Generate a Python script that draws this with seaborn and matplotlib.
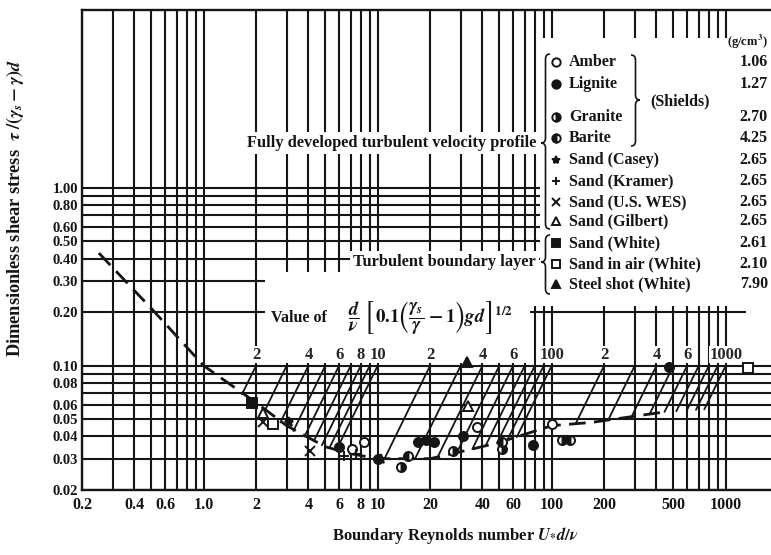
import matplotlib
matplotlib.use('Agg')
import matplotlib.pyplot as plt
import matplotlib.ticker as mticker
import matplotlib.transforms as mtransforms
import matplotlib.patches as mpatches
from matplotlib.path import Path
import pandas as pd
import seaborn as sns

# Shields curve (dashed)
curve_re = [0.25, 0.5, 1.0, 2.0, 3.0, 5.0, 7.0, 10, 20, 35, 50, 100, 170, 300, 450]
curve_tau = [0.43, 0.21, 0.10, 0.062, 0.046, 0.035, 0.032, 0.030, 0.030, 0.034, 0.037,
             0.046, 0.048, 0.052, 0.055]

# slanted lines: value of d/v [0.1 (gs/g - 1) g d]^1/2, start at tau = 0.1, end on the curve
guide_p = [2, 3, 4, 5, 6, 7, 8, 9, 10, 20, 30, 40, 50, 60, 70, 80, 90, 100,
           200, 300, 400, 500, 600, 700, 800, 900, 1000]
guide_end_re = [1.66, 2.23, 2.76, 3.28, 3.8, 4.3, 4.78, 5.29, 5.8, 10.95, 16.4, 22.1, 28.5,
                35, 41.6, 48.5, 55.6, 63, 137, 211, 288, 365, 445, 520, 597, 675, 753]
guide_end_tau = [0.069, 0.055, 0.048, 0.043, 0.040, 0.0377, 0.0357, 0.0346, 0.0336, 0.030,
                 0.030, 0.0306, 0.0324, 0.034, 0.0353, 0.0367, 0.0382, 0.0397, 0.047, 0.0494,
                 0.0517, 0.0534, 0.055, 0.0555, 0.056, 0.0565, 0.0568]
guide_top_tau = 0.1
guide_label_p = [2, 4, 6, 8, 10, 20, 40, 60, 100, 200, 400, 600, 1000]
guide_label_txt = ['2', '4', '6', '8', '10', '2', '4', '6', '100', '2', '4', '6', '1000']

# measured points
amber_re, amber_tau = [7.1, 8.3, 37, 100], [0.034, 0.037, 0.045, 0.047]
lignite_re = [6.0, 10, 17, 19, 21, 31, 78, 470]
lignite_tau = [0.035, 0.030, 0.037, 0.038, 0.037, 0.040, 0.036, 0.098]
granite_re, granite_tau = [13.6, 27, 52, 115], [0.027, 0.033, 0.034, 0.038]
barite_re, barite_tau = [15, 52, 128], [0.031, 0.037, 0.038]
casey_re, casey_tau = [3.1, 10.5], [0.048, 0.030]
kramer_re, kramer_tau = [6.4, 7.5], [0.031, 0.032]
wes_re, wes_tau = [2.2, 4.1], [0.048, 0.033]
gilbert_re, gilbert_tau = [2.2, 33], [0.054, 0.059]
white_re, white_tau = [1.9], [0.062]
air_re, air_tau = [2.5, 1350], [0.047, 0.097]
steel_re, steel_tau = [32.5], [0.105]

legend_names = ['Amber', 'Lignite', 'Granite', 'Barite', 'Sand (Casey)', 'Sand (Kramer)',
                'Sand (U.S. WES)', 'Sand (Gilbert)', 'Sand (White)', 'Sand in air (White)',
                'Steel shot (White)']
legend_density = ['1.06', '1.27', '2.70', '4.25', '2.65', '2.65', '2.65', '2.65', '2.61',
                  '2.10', '7.90']

x_major = [0.2, 0.4, 0.6, 1, 2, 4, 6, 8, 10, 20, 40, 60, 100, 200, 500, 1000]
x_major_lbl = ['0.2', '0.4', '0.6', '1.0', '2', '4', '6', '8', '10', '20', '40', '60',
               '100', '200', '500', '1000']
x_minor = [0.3, 0.5, 0.7, 0.8, 0.9, 3, 5, 7, 9, 30, 50, 70, 80, 90, 300, 400, 600, 700,
           800, 900]
y_major = [0.02, 0.03, 0.04, 0.05, 0.06, 0.08, 0.1, 0.2, 0.3, 0.4, 0.5, 0.6, 0.8, 1.0]
y_major_lbl = ['0.02', '0.03', '0.04', '0.05', '0.06', '0.08', '0.10', '0.20', '0.30',
               '0.40', '0.50', '0.60', '0.80', '1.00']
y_minor = [0.07, 0.09, 0.7, 0.9]

sns.set_style('white')
plt.rcParams['font.family'] = ['Liberation Serif', 'DejaVu Serif']
plt.rcParams['font.weight'] = 'bold'
plt.rcParams['mathtext.fontset'] = 'stix'

INK = '#151515'
W, H = 771, 555
fig = plt.figure(figsize=(W / 100, H / 100), dpi=100)
ax = fig.add_axes([82 / W, (H - 490) / H, (771 - 82) / W, 480 / H])
# image pixel coords (origin top-left) -> figure
px = mtransforms.Affine2D().scale(1 / W, -1 / H).translate(0, 1) + fig.transFigure

ax.set_xscale('log')
ax.set_yscale('log')

# curve
sns.lineplot(x=curve_re, y=curve_tau, ax=ax, color=INK, lw=2.0, sort=False,
             estimator=None, linestyle=(0, (6, 3)), zorder=3)

# slanted guide lines
rows = []
for p, er, et in zip(guide_p, guide_end_re, guide_end_tau):
    rows.append({'p': p, 're': p, 'tau': guide_top_tau})
    rows.append({'p': p, 're': er, 'tau': et})
df_guide = pd.DataFrame(rows)
sns.lineplot(data=df_guide, x='re', y='tau', units='p', estimator=None, sort=False,
             color=INK, lw=1.3, ax=ax, zorder=3)

for p, t in zip(guide_label_p, guide_label_txt):
    ax.text(p, 0.104, t, ha='center', va='bottom', fontsize=12, zorder=4,
            bbox=dict(fc='white', ec='none', pad=0.5))

styles = [
    (amber_re, amber_tau, dict(marker='o', mfc='white', fillstyle='full')),
    (lignite_re, lignite_tau, dict(marker='o', mfc=INK, fillstyle='full')),
    (granite_re, granite_tau, dict(marker='o', mfc=INK, fillstyle='right', mfcalt='white')),
    (barite_re, barite_tau, dict(marker='o', mfc=INK, fillstyle='left', mfcalt='white')),
    (casey_re, casey_tau, dict(marker='*', mfc=INK, fillstyle='full')),
    (kramer_re, kramer_tau, dict(marker='+', mfc=INK, fillstyle='full')),
    (wes_re, wes_tau, dict(marker='x', mfc=INK, fillstyle='full')),
    (gilbert_re, gilbert_tau, dict(marker='^', mfc='white', fillstyle='full')),
    (white_re, white_tau, dict(marker='s', mfc=INK, fillstyle='full')),
    (air_re, air_tau, dict(marker='s', mfc='white', fillstyle='full')),
    (steel_re, steel_tau, dict(marker='^', mfc=INK, fillstyle='full')),
]
for re_, tau_, st in styles:
    ax.plot(re_, tau_, ls='none', mec=INK, ms=6.5, mew=1.4, zorder=6, **st)

# axes, ticks, grid
ax.set_xlim(0.2, 1820)
ax.set_ylim(0.02, 10)
ax.xaxis.set_major_locator(mticker.FixedLocator(x_major))
ax.xaxis.set_major_formatter(mticker.FixedFormatter(x_major_lbl))
ax.xaxis.set_minor_locator(mticker.FixedLocator(x_minor))
ax.xaxis.set_minor_formatter(mticker.NullFormatter())
ax.yaxis.set_major_locator(mticker.FixedLocator(y_major))
ax.yaxis.set_major_formatter(mticker.FixedFormatter(y_major_lbl))
ax.yaxis.set_minor_locator(mticker.FixedLocator(y_minor))
ax.yaxis.set_minor_formatter(mticker.NullFormatter())
ax.tick_params(which='both', length=0, colors=INK)
ax.tick_params(axis='x', pad=5, labelsize=11.5)
ax.tick_params(axis='y', pad=3, labelsize=10.5)
ax.set_axisbelow(True)
ax.grid(which='both', color=INK, lw=1.5)
for s in ['left', 'top', 'bottom']:
    ax.spines[s].set_color(INK)
    ax.spines[s].set_linewidth(1.7)
ax.spines['right'].set_visible(False)
ax.set_xlabel('')
ax.set_ylabel('')

# blank areas of the grid, image pixels
for x0, y0, x1, y1 in [(540, 38, 775, 300), (265, 272, 530, 363), (530, 272, 775, 306),
                       (746, 300, 775, 345)]:
    ax.add_patch(mpatches.Rectangle((x0, y1), x1 - x0, y0 - y1, transform=px,
                                    fc='white', ec='none', zorder=1))

fig.text(536, 143, 'Fully developed turbulent velocity profile', transform=px,
         ha='right', va='center', fontsize=11.8, color=INK,
         bbox=dict(fc='white', ec='none', pad=2))
fig.text(536, 262, 'Turbulent boundary layer', transform=px, ha='right', va='center',
         fontsize=11.8, color=INK, bbox=dict(fc='white', ec='none', pad=2))
fig.text(271, 318, 'Value of', transform=px, ha='left', va='center', fontsize=11.5,
         color=INK)
fig.text(348, 318,
         r'$\dfrac{d}{\nu}\;\left[\,0.1\left(\dfrac{\gamma_s}{\gamma}-1\right)gd\,\right]^{1/2}$',
         transform=px, ha='left', va='center', fontsize=13.5, color=INK)

# legend block
legend_y = [62, 84, 117, 138, 160, 181, 202, 221, 243, 264, 284]
for (re_, tau_, st), name, dens, y in zip(styles, legend_names, legend_density, legend_y):
    ax.plot([556], [y], transform=px, clip_on=False, ls='none', mec=INK, ms=6, mew=1.4,
            zorder=7, **st)
    fig.text(569, y, name, transform=px, ha='left', va='center', fontsize=11.5, color=INK)
    fig.text(768, y, dens, transform=px, ha='right', va='center', fontsize=11.5, color=INK)
fig.text(768, 42, r'(g/cm$^3$)', transform=px, ha='right', va='center', fontsize=9,
         color=INK)
fig.text(650, 101, '(Shields)', transform=px, ha='left', va='center', fontsize=11.5,
         color=INK)


def brace(x_tip, y0, y1, ym, w, side):
    # side = 1 for '{' (tip to the left), -1 for '}'
    xe = x_tip + side * w
    xm = x_tip + side * w / 2
    r = 5
    verts = [(xe, y0), (xm, y0), (xm, y0 + r), (xm, ym - r), (xm, ym), (x_tip, ym),
             (xm, ym), (xm, ym + r), (xm, y1 - r), (xm, y1), (xe, y1)]
    codes = [Path.MOVETO, Path.CURVE3, Path.CURVE3, Path.LINETO, Path.CURVE3, Path.CURVE3,
             Path.CURVE3, Path.CURVE3, Path.LINETO, Path.CURVE3, Path.CURVE3]
    fig.add_artist(mpatches.PathPatch(Path(verts, codes), transform=px, fc='none',
                                      ec=INK, lw=1.2))


brace(541, 54, 229, 143, 9, 1)
brace(541, 235, 294, 262, 9, 1)
brace(640, 55, 146, 100, 9, -1)

fig.text(15, 208, r'Dimensionless shear stress  $\tau\;/(\gamma_s-\gamma)d$', transform=px,
         rotation=90, ha='center', va='center', fontsize=13.2, color=INK)
fig.text(455, 535, r'Boundary Reynolds number $U_{*}d/\nu$', transform=px,
         ha='center', va='center', fontsize=12, color=INK)

fig.savefig('out.png', dpi=100, facecolor='white')
